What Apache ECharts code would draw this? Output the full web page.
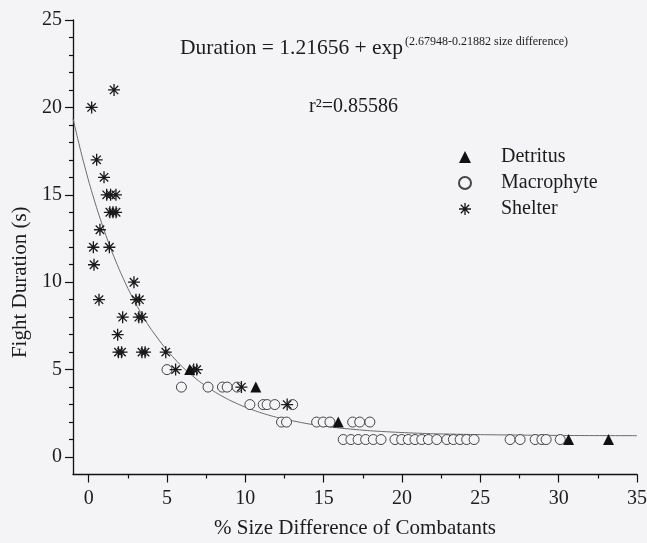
<!DOCTYPE html>
<html>
<head>
<meta charset="utf-8">
<script src="https://cdn.jsdelivr.net/npm/echarts@6/dist/echarts.min.js"></script>
<style>
html,body{margin:0;padding:0;background:#f4f4f6;}
#c{width:647px;height:543px;}
</style>
</head>
<body>
<div id="c"></div>
<script>
// ---- tick values ----
const xTickValues = [0, 5, 10, 15, 20, 25, 30, 35];
const xMinorTickValues = [2.5, 7.5, 12.5, 17.5, 22.5, 27.5, 32.5];
const yTickValues = [0, 5, 10, 15, 20, 25];
const yMinorTickValues = [1, 2, 3, 4, 6, 7, 8, 9, 11, 12, 13, 14, 16, 17, 18, 19, 21, 22, 23, 24];

// ---- series names ----
const seriesNames = ['Detritus', 'Macrophyte', 'Shelter'];

// ---- Detritus (filled triangles) ----
const detritusX = [6.45, 10.67, 15.93, 30.63, 33.18];
const detritusY = [5, 4, 2, 1, 1];

// ---- Macrophyte (open circles) ----
const macroX = [5.0,
  5.92, 7.62, 8.54, 8.84, 9.48,
  10.29, 11.14, 11.39, 11.88, 13.02,
  12.31, 12.63, 14.55, 14.97, 15.4, 16.85, 17.3, 17.95,
  16.25, 16.74, 17.2, 17.68, 18.17, 18.66, 19.55, 19.98, 20.4, 20.83, 21.26, 21.68,
  22.22, 22.86, 23.28, 23.71, 24.13, 24.6, 26.9, 27.54, 28.5, 28.93, 29.2, 30.1];
const macroY = [5,
  4, 4, 4, 4, 4,
  3, 3, 3, 3, 3,
  2, 2, 2, 2, 2, 2, 2, 2,
  1, 1, 1, 1, 1, 1, 1, 1, 1, 1, 1, 1,
  1, 1, 1, 1, 1, 1, 1, 1, 1, 1, 1, 1];

// ---- Shelter (asterisks) ----
const shelterX = [1.62, 0.19, 0.51, 0.98, 1.15, 1.4, 1.74, 1.35, 1.55, 1.75, 0.72, 0.3, 1.32, 0.34,
  2.89, 0.66, 3.02, 3.24, 2.17, 3.2, 3.4, 1.85, 1.9, 2.1, 3.4, 3.6, 4.92, 5.55, 6.7, 6.9, 9.75, 12.67];
const shelterY = [21, 20, 17, 16, 15, 15, 15, 14, 14, 14, 13, 12, 12, 11,
  10, 9, 9, 9, 8, 8, 8, 7, 6, 6, 6, 6, 6, 5, 5, 5, 4, 3];

// ---- fitted curve ----
const curveX = [-1, -0.5, 0, 0.5, 1, 1.5, 2, 2.5, 3, 3.5, 4, 5, 6, 7, 8, 9, 10, 11, 12, 14, 16, 18, 20, 22, 25, 28, 31, 35];
const curveY = [19.36, 17.48, 15.79, 14.28, 12.93, 11.71, 10.63, 9.65, 8.78, 7.99, 7.29, 6.10, 5.14, 4.37, 3.75, 3.25, 2.85, 2.53, 2.27, 1.90, 1.66, 1.50, 1.40, 1.33, 1.28, 1.25, 1.23, 1.22];

// ---- texts ----
const xTitle = '% Size Difference of Combatants';
const yTitle = 'Fight Duration (s)';
const eqMain = 'Duration = 1.21656 + exp';
const eqSup = '(2.67948-0.21882 size difference)';
const r2Text = 'r\u00B2=0.85586';

const FONT = '"Liberation Serif", "Times New Roman", serif';
const INK = '#1c1c1c';
const BG = '#f4f4f6';
const ASTERISK = 'path://M0 8.9H20V11.1H0Z M8.9 0H11.1V20H8.9Z M3.78 2.22L17.78 16.22L16.22 17.78L2.22 3.78Z M17.78 3.78L3.78 17.78L2.22 16.22L16.22 2.22Z';

const zip = (xs, ys) => xs.map((x, i) => [x, ys[i]]);

const chart = echarts.init(document.getElementById('c'), null, {renderer: 'canvas'});

const lineStyleAxis = {color: '#111', width: 1.3};
const tickStyle = {color: '#111', width: 1.2};

chart.setOption({
  backgroundColor: BG,
  animation: false,
  textStyle: {fontFamily: FONT, color: INK},
  grid: {left: 73, right: 10, top: 20, bottom: 68.5, containLabel: false, outerBoundsMode: 'none'},
  legend: {
    data: seriesNames,
    orient: 'vertical',
    left: 453,
    top: 139,
    itemWidth: 12,
    itemHeight: 12,
    itemGap: 0,
    textStyle: {fontFamily: FONT, fontSize: 20, color: INK, lineHeight: 26, padding: [0, 0, 0, 25]},
    selectedMode: false
  },
  xAxis: [
    {
      type: 'value', min: -1, max: 35, position: 'bottom',
      splitLine: {show: false},
      axisLine: {show: true, onZero: false, lineStyle: lineStyleAxis},
      name: xTitle, nameLocation: 'middle', nameGap: 43,
      nameTextStyle: {fontFamily: FONT, fontSize: 21, color: INK},
      axisTick: {show: true, length: 8, customValues: xTickValues, lineStyle: tickStyle},
      axisLabel: {show: true, customValues: xTickValues, margin: 14, fontFamily: FONT, fontSize: 20, color: INK}
    },
    {
      type: 'value', min: -1, max: 35, position: 'bottom',
      splitLine: {show: false},
      axisLine: {show: false, onZero: false},
      axisTick: {show: true, length: 4, customValues: xMinorTickValues, lineStyle: tickStyle},
      axisLabel: {show: false}
    }
  ],
  yAxis: [
    {
      type: 'value', min: -1, max: 25, position: 'left',
      splitLine: {show: false},
      axisLine: {show: true, onZero: false, lineStyle: lineStyleAxis},
      name: yTitle, nameLocation: 'middle', nameGap: 40,
      nameTextStyle: {fontFamily: FONT, fontSize: 21, color: INK, padding: [0, 70, 0, 0]},
      axisTick: {show: true, length: 8, customValues: yTickValues, lineStyle: tickStyle},
      axisLabel: {show: true, customValues: yTickValues, margin: 11, fontFamily: FONT, fontSize: 20, color: INK}
    },
    {
      type: 'value', min: -1, max: 25, position: 'left',
      splitLine: {show: false},
      axisLine: {show: false, onZero: false},
      axisTick: {show: true, length: 4, customValues: yMinorTickValues, lineStyle: tickStyle},
      axisLabel: {show: false}
    }
  ],
  graphic: [
    {type: 'text', x: 180, y: 48, style: {text: eqMain, font: '21.5px ' + FONT, fill: INK, verticalAlign: 'middle', align: 'left'}},
    {type: 'text', x: 405, y: 42, style: {text: eqSup, font: '12px ' + FONT, fill: INK, verticalAlign: 'middle', align: 'left'}},
    {type: 'text', x: 309, y: 107, style: {text: r2Text, font: '20px ' + FONT, fill: INK, verticalAlign: 'middle', align: 'left'}}
  ],
  series: [
    {
      type: 'line', name: 'fit', data: zip(curveX, curveY), xAxisIndex: 0, yAxisIndex: 0,
      symbol: 'none', smooth: 0.2, silent: true,
      lineStyle: {color: '#6a6a6a', width: 1}, z: 1
    },
    {
      type: 'scatter', name: 'Macrophyte', data: zip(macroX, macroY), xAxisIndex: 0, yAxisIndex: 0,
      symbol: 'circle', symbolSize: 10,
      itemStyle: {color: BG, borderColor: '#444', borderWidth: 1, opacity: 1}, z: 2
    },
    {
      type: 'scatter', name: 'Shelter', data: zip(shelterX, shelterY), xAxisIndex: 0, yAxisIndex: 0,
      symbol: ASTERISK, symbolSize: 12,
      itemStyle: {color: '#1a1a1a', opacity: 1}, z: 3
    },
    {
      type: 'scatter', name: 'Detritus', data: zip(detritusX, detritusY), xAxisIndex: 0, yAxisIndex: 0,
      symbol: 'triangle', symbolSize: 11,
      itemStyle: {color: '#111', opacity: 1}, z: 4
    }
  ]
});
</script>
</body>
</html>
